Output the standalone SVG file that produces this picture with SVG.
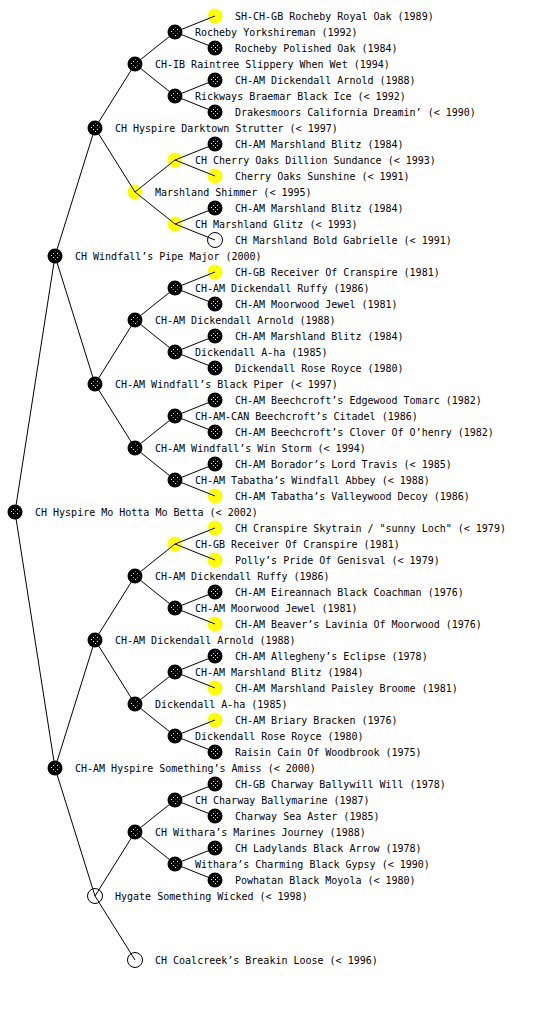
<svg xmlns="http://www.w3.org/2000/svg" width="560" height="1024" viewBox="0 0 560 1024">
<defs>
<pattern id="dots" width="4" height="4" patternUnits="userSpaceOnUse">
<rect x="1" y="1" width="1" height="1" fill="#ffffff"/>
<rect x="3" y="3" width="1" height="1" fill="#ffffff"/>
</pattern>
<style>
text{font-family:"DejaVu Sans Mono","Liberation Mono",monospace;font-size:10px;fill:#000}
.b{fill:#000}
.y{fill:#ffff00}
.w{fill:#fff;stroke:#000;stroke-width:1}
.d{fill:url(#dots)}
.c{fill:none;stroke:#000;stroke-width:1}
</style>
</defs>
<rect width="560" height="1024" fill="#fff"/>
<g id="nodes">
<g id="n1"><circle class="y" cx="215" cy="16" r="7.5"/><circle class="d" cx="215" cy="16" r="4.5"/><text x="235" y="20">SH-CH-GB Rocheby Royal Oak (1989)</text></g>
<g id="n2"><circle class="b" cx="175" cy="32" r="7.5"/><circle class="d" cx="175" cy="32" r="4.5"/><text x="195" y="36">Rocheby Yorkshireman (1992)</text></g>
<g id="n3"><circle class="b" cx="215" cy="48" r="7.5"/><circle class="d" cx="215" cy="48" r="4.5"/><text x="235" y="52">Rocheby Polished Oak (1984)</text></g>
<g id="n4"><circle class="b" cx="135" cy="64" r="7.5"/><circle class="d" cx="135" cy="64" r="4.5"/><text x="155" y="68">CH-IB Raintree Slippery When Wet (1994)</text></g>
<g id="n5"><circle class="b" cx="215" cy="80" r="7.5"/><circle class="d" cx="215" cy="80" r="4.5"/><text x="235" y="84">CH-AM Dickendall Arnold (1988)</text></g>
<g id="n6"><circle class="b" cx="175" cy="96" r="7.5"/><circle class="d" cx="175" cy="96" r="4.5"/><text x="195" y="100">Rickways Braemar Black Ice (&lt; 1992)</text></g>
<g id="n7"><circle class="b" cx="215" cy="112" r="7.5"/><circle class="d" cx="215" cy="112" r="4.5"/><text x="235" y="116">Drakesmoors California Dreamin’ (&lt; 1990)</text></g>
<g id="n8"><circle class="b" cx="95" cy="128" r="7.5"/><circle class="d" cx="95" cy="128" r="4.5"/><text x="115" y="132">CH Hyspire Darktown Strutter (&lt; 1997)</text></g>
<g id="n9"><circle class="b" cx="215" cy="144" r="7.5"/><circle class="d" cx="215" cy="144" r="4.5"/><text x="235" y="148">CH-AM Marshland Blitz (1984)</text></g>
<g id="n10"><circle class="y" cx="175" cy="160" r="7.5"/><circle class="d" cx="175" cy="160" r="4.5"/><text x="195" y="164">CH Cherry Oaks Dillion Sundance (&lt; 1993)</text></g>
<g id="n11"><circle class="y" cx="215" cy="176" r="7.5"/><circle class="d" cx="215" cy="176" r="4.5"/><text x="235" y="180">Cherry Oaks Sunshine (&lt; 1991)</text></g>
<g id="n12"><circle class="y" cx="135" cy="192" r="7.5"/><circle class="d" cx="135" cy="192" r="4.5"/><text x="155" y="196">Marshland Shimmer (&lt; 1995)</text></g>
<g id="n13"><circle class="b" cx="215" cy="208" r="7.5"/><circle class="d" cx="215" cy="208" r="4.5"/><text x="235" y="212">CH-AM Marshland Blitz (1984)</text></g>
<g id="n14"><circle class="y" cx="175" cy="224" r="7.5"/><circle class="d" cx="175" cy="224" r="4.5"/><text x="195" y="228">CH Marshland Glitz (&lt; 1993)</text></g>
<g id="n15"><circle class="w" cx="215" cy="240" r="7.5"/><text x="235" y="244">CH Marshland Bold Gabrielle (&lt; 1991)</text></g>
<g id="n16"><circle class="b" cx="55" cy="256" r="7.5"/><circle class="d" cx="55" cy="256" r="4.5"/><text x="75" y="260">CH Windfall’s Pipe Major (2000)</text></g>
<g id="n17"><circle class="y" cx="215" cy="272" r="7.5"/><circle class="d" cx="215" cy="272" r="4.5"/><text x="235" y="276">CH-GB Receiver Of Cranspire (1981)</text></g>
<g id="n18"><circle class="b" cx="175" cy="288" r="7.5"/><circle class="d" cx="175" cy="288" r="4.5"/><text x="195" y="292">CH-AM Dickendall Ruffy (1986)</text></g>
<g id="n19"><circle class="b" cx="215" cy="304" r="7.5"/><circle class="d" cx="215" cy="304" r="4.5"/><text x="235" y="308">CH-AM Moorwood Jewel (1981)</text></g>
<g id="n20"><circle class="b" cx="135" cy="320" r="7.5"/><circle class="d" cx="135" cy="320" r="4.5"/><text x="155" y="324">CH-AM Dickendall Arnold (1988)</text></g>
<g id="n21"><circle class="b" cx="215" cy="336" r="7.5"/><circle class="d" cx="215" cy="336" r="4.5"/><text x="235" y="340">CH-AM Marshland Blitz (1984)</text></g>
<g id="n22"><circle class="b" cx="175" cy="352" r="7.5"/><circle class="d" cx="175" cy="352" r="4.5"/><text x="195" y="356">Dickendall A-ha (1985)</text></g>
<g id="n23"><circle class="b" cx="215" cy="368" r="7.5"/><circle class="d" cx="215" cy="368" r="4.5"/><text x="235" y="372">Dickendall Rose Royce (1980)</text></g>
<g id="n24"><circle class="b" cx="95" cy="384" r="7.5"/><circle class="d" cx="95" cy="384" r="4.5"/><text x="115" y="388">CH-AM Windfall’s Black Piper (&lt; 1997)</text></g>
<g id="n25"><circle class="b" cx="215" cy="400" r="7.5"/><circle class="d" cx="215" cy="400" r="4.5"/><text x="235" y="404">CH-AM Beechcroft’s Edgewood Tomarc (1982)</text></g>
<g id="n26"><circle class="b" cx="175" cy="416" r="7.5"/><circle class="d" cx="175" cy="416" r="4.5"/><text x="195" y="420">CH-AM-CAN Beechcroft’s Citadel (1986)</text></g>
<g id="n27"><circle class="b" cx="215" cy="432" r="7.5"/><circle class="d" cx="215" cy="432" r="4.5"/><text x="235" y="436">CH-AM Beechcroft’s Clover Of O’henry (1982)</text></g>
<g id="n28"><circle class="b" cx="135" cy="448" r="7.5"/><circle class="d" cx="135" cy="448" r="4.5"/><text x="155" y="452">CH-AM Windfall’s Win Storm (&lt; 1994)</text></g>
<g id="n29"><circle class="b" cx="215" cy="464" r="7.5"/><circle class="d" cx="215" cy="464" r="4.5"/><text x="235" y="468">CH-AM Borador’s Lord Travis (&lt; 1985)</text></g>
<g id="n30"><circle class="b" cx="175" cy="480" r="7.5"/><circle class="d" cx="175" cy="480" r="4.5"/><text x="195" y="484">CH-AM Tabatha’s Windfall Abbey (&lt; 1988)</text></g>
<g id="n31"><circle class="y" cx="215" cy="496" r="7.5"/><circle class="d" cx="215" cy="496" r="4.5"/><text x="235" y="500">CH-AM Tabatha’s Valleywood Decoy (1986)</text></g>
<g id="n32"><circle class="b" cx="15" cy="512" r="7.5"/><circle class="d" cx="15" cy="512" r="4.5"/><text x="35" y="516">CH Hyspire Mo Hotta Mo Betta (&lt; 2002)</text></g>
<g id="n33"><circle class="y" cx="215" cy="528" r="7.5"/><circle class="d" cx="215" cy="528" r="4.5"/><text x="235" y="532">CH Cranspire Skytrain / "sunny Loch" (&lt; 1979)</text></g>
<g id="n34"><circle class="y" cx="175" cy="544" r="7.5"/><circle class="d" cx="175" cy="544" r="4.5"/><text x="195" y="548">CH-GB Receiver Of Cranspire (1981)</text></g>
<g id="n35"><circle class="y" cx="215" cy="560" r="7.5"/><circle class="d" cx="215" cy="560" r="4.5"/><text x="235" y="564">Polly’s Pride Of Genisval (&lt; 1979)</text></g>
<g id="n36"><circle class="b" cx="135" cy="576" r="7.5"/><circle class="d" cx="135" cy="576" r="4.5"/><text x="155" y="580">CH-AM Dickendall Ruffy (1986)</text></g>
<g id="n37"><circle class="b" cx="215" cy="592" r="7.5"/><circle class="d" cx="215" cy="592" r="4.5"/><text x="235" y="596">CH-AM Eireannach Black Coachman (1976)</text></g>
<g id="n38"><circle class="b" cx="175" cy="608" r="7.5"/><circle class="d" cx="175" cy="608" r="4.5"/><text x="195" y="612">CH-AM Moorwood Jewel (1981)</text></g>
<g id="n39"><circle class="y" cx="215" cy="624" r="7.5"/><circle class="d" cx="215" cy="624" r="4.5"/><text x="235" y="628">CH-AM Beaver’s Lavinia Of Moorwood (1976)</text></g>
<g id="n40"><circle class="b" cx="95" cy="640" r="7.5"/><circle class="d" cx="95" cy="640" r="4.5"/><text x="115" y="644">CH-AM Dickendall Arnold (1988)</text></g>
<g id="n41"><circle class="b" cx="215" cy="656" r="7.5"/><circle class="d" cx="215" cy="656" r="4.5"/><text x="235" y="660">CH-AM Allegheny’s Eclipse (1978)</text></g>
<g id="n42"><circle class="b" cx="175" cy="672" r="7.5"/><circle class="d" cx="175" cy="672" r="4.5"/><text x="195" y="676">CH-AM Marshland Blitz (1984)</text></g>
<g id="n43"><circle class="y" cx="215" cy="688" r="7.5"/><circle class="d" cx="215" cy="688" r="4.5"/><text x="235" y="692">CH-AM Marshland Paisley Broome (1981)</text></g>
<g id="n44"><circle class="b" cx="135" cy="704" r="7.5"/><circle class="d" cx="135" cy="704" r="4.5"/><text x="155" y="708">Dickendall A-ha (1985)</text></g>
<g id="n45"><circle class="y" cx="215" cy="720" r="7.5"/><circle class="d" cx="215" cy="720" r="4.5"/><text x="235" y="724">CH-AM Briary Bracken (1976)</text></g>
<g id="n46"><circle class="b" cx="175" cy="736" r="7.5"/><circle class="d" cx="175" cy="736" r="4.5"/><text x="195" y="740">Dickendall Rose Royce (1980)</text></g>
<g id="n47"><circle class="b" cx="215" cy="752" r="7.5"/><circle class="d" cx="215" cy="752" r="4.5"/><text x="235" y="756">Raisin Cain Of Woodbrook (1975)</text></g>
<g id="n48"><circle class="b" cx="55" cy="768" r="7.5"/><circle class="d" cx="55" cy="768" r="4.5"/><text x="75" y="772">CH-AM Hyspire Something’s Amiss (&lt; 2000)</text></g>
<g id="n49"><circle class="b" cx="215" cy="784" r="7.5"/><circle class="d" cx="215" cy="784" r="4.5"/><text x="235" y="788">CH-GB Charway Ballywill Will (1978)</text></g>
<g id="n50"><circle class="b" cx="175" cy="800" r="7.5"/><circle class="d" cx="175" cy="800" r="4.5"/><text x="195" y="804">CH Charway Ballymarine (1987)</text></g>
<g id="n51"><circle class="b" cx="215" cy="816" r="7.5"/><circle class="d" cx="215" cy="816" r="4.5"/><text x="235" y="820">Charway Sea Aster (1985)</text></g>
<g id="n52"><circle class="b" cx="135" cy="832" r="7.5"/><circle class="d" cx="135" cy="832" r="4.5"/><text x="155" y="836">CH Withara’s Marines Journey (1988)</text></g>
<g id="n53"><circle class="b" cx="215" cy="848" r="7.5"/><circle class="d" cx="215" cy="848" r="4.5"/><text x="235" y="852">CH Ladylands Black Arrow (1978)</text></g>
<g id="n54"><circle class="b" cx="175" cy="864" r="7.5"/><circle class="d" cx="175" cy="864" r="4.5"/><text x="195" y="868">Withara’s Charming Black Gypsy (&lt; 1990)</text></g>
<g id="n55"><circle class="b" cx="215" cy="880" r="7.5"/><circle class="d" cx="215" cy="880" r="4.5"/><text x="235" y="884">Powhatan Black Moyola (&lt; 1980)</text></g>
<g id="n56"><circle class="w" cx="95" cy="896" r="7.5"/><text x="115" y="900">Hygate Something Wicked (&lt; 1998)</text></g>
<g id="n57"><circle class="w" cx="135" cy="960" r="7.5"/><text x="155" y="964">CH Coalcreek’s Breakin Loose (&lt; 1996)</text></g>
</g>
<g id="connectors">
<path class="c" d="M15 512L55 256M15 512L55 768
M55 256L95 128M55 256L95 384M55 768L95 640M55 768L95 896
M95 128L135 64M95 128L135 192M95 384L135 320M95 384L135 448
M95 640L135 576M95 640L135 704M95 896L135 832M95 896L135 960
M135 64L175 32M135 64L175 96M135 192L175 160M135 192L175 224
M135 320L175 288M135 320L175 352M135 448L175 416M135 448L175 480
M135 576L175 544M135 576L175 608M135 704L175 672M135 704L175 736
M135 832L175 800M135 832L175 864
M175 32L215 16M175 32L215 48M175 96L215 80M175 96L215 112
M175 160L215 144M175 160L215 176M175 224L215 208M175 224L215 240
M175 288L215 272M175 288L215 304M175 352L215 336M175 352L215 368
M175 416L215 400M175 416L215 432M175 480L215 464M175 480L215 496
M175 544L215 528M175 544L215 560M175 608L215 592M175 608L215 624
M175 672L215 656M175 672L215 688M175 736L215 720M175 736L215 752
M175 800L215 784M175 800L215 816M175 864L215 848M175 864L215 880"/>
</g>
</svg>
